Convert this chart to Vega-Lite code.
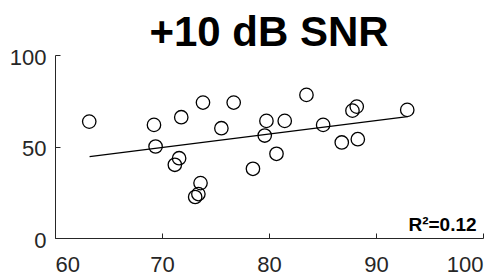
{
  "$schema": "https://vega.github.io/schema/vega-lite/v6.json",
  "width": 428,
  "height": 183,
  "autosize": {"type": "none"},
  "padding": {"left": 55, "top": 55, "right": 20, "bottom": 37},
  "background": "white",
  "title": {
    "text": "+10 dB SNR",
    "font": "Liberation Sans",
    "fontSize": 42,
    "fontWeight": "bold",
    "color": "#000000",
    "anchor": "middle",
    "baseline": "alphabetic",
    "offset": -42
  },
  "config": {
    "view": {"stroke": null},
    "axis": {
      "grid": false,
      "domainColor": "#262626",
      "tickColor": "#262626",
      "labelColor": "#262626",
      "labelFont": "Liberation Sans",
      "labelFontSize": 22,
      "tickSize": -5,
      "domainWidth": 1,
      "tickWidth": 1,
      "title": null
    }
  },
  "datasets": {
    "pts": [
      {"x": 63.2, "y": 63.6},
      {"x": 69.25, "y": 61.8},
      {"x": 71.8, "y": 66.0},
      {"x": 73.83, "y": 74.0},
      {"x": 69.4, "y": 50.0},
      {"x": 71.6, "y": 43.6},
      {"x": 71.2, "y": 40.0},
      {"x": 73.6, "y": 30.0},
      {"x": 73.4, "y": 24.0},
      {"x": 73.1, "y": 22.4},
      {"x": 76.7, "y": 74.0},
      {"x": 75.55, "y": 60.0},
      {"x": 79.76, "y": 64.0},
      {"x": 81.47, "y": 64.0},
      {"x": 79.6, "y": 56.0},
      {"x": 83.5, "y": 78.2},
      {"x": 85.06, "y": 61.8},
      {"x": 80.7, "y": 46.0},
      {"x": 78.5, "y": 37.8},
      {"x": 87.8, "y": 69.6},
      {"x": 88.2, "y": 71.8},
      {"x": 86.8, "y": 52.2},
      {"x": 88.3, "y": 54.0},
      {"x": 92.92, "y": 70.0}
    ],
    "fit": [
      {"x": 63.23, "y": 44.5},
      {"x": 92.94, "y": 66.3}
    ],
    "note": [
      {"x": 99.4, "y": 3.6, "label": "R²=0.12"}
    ]
  },
  "layer": [
    {
      "data": {"name": "fit"},
      "mark": {"type": "line", "color": "#000000", "strokeWidth": 1.3},
      "encoding": {
        "x": {"field": "x", "type": "quantitative", "scale": {"domain": [60, 100], "nice": false, "zero": false},
          "axis": {"values": [60, 70, 80, 90, 100], "labelPadding": 21, "labelBaseline": "top"}},
        "y": {"field": "y", "type": "quantitative", "scale": {"domain": [0, 100], "nice": false},
          "axis": {"values": [0, 50, 100], "labelPadding": 14, "labelBaseline": "middle", "labelOffset": 2}}
      }
    },
    {
      "data": {"name": "pts"},
      "mark": {"type": "point", "shape": "circle", "filled": false, "stroke": "#000000", "strokeWidth": 1.3, "size": 180, "opacity": 1},
      "encoding": {
        "x": {"field": "x", "type": "quantitative"},
        "y": {"field": "y", "type": "quantitative"}
      }
    },
    {
      "data": {"name": "note"},
      "mark": {"type": "text", "align": "right", "baseline": "alphabetic", "font": "Liberation Sans", "fontSize": 19, "fontWeight": "bold", "color": "#000000"},
      "encoding": {
        "x": {"field": "x", "type": "quantitative"},
        "y": {"field": "y", "type": "quantitative"},
        "text": {"field": "label"}
      }
    }
  ]
}
